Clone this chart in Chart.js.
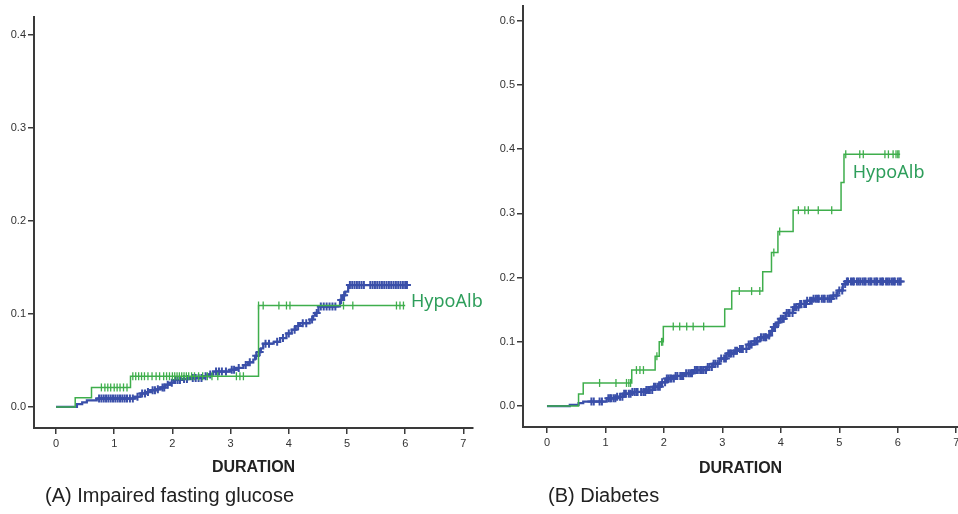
<!DOCTYPE html>
<html>
<head>
<meta charset="utf-8">
<script src="https://cdn.jsdelivr.net/npm/chart.js@4/dist/chart.umd.min.js"></script>
<style>
  html, body { margin: 0; padding: 0; background: #fff; overflow: hidden; width: 958px; height: 514px; }
  .panel { position: absolute; top: 0; }
  .caption { position: absolute; font-family: "Liberation Sans", Arial, sans-serif; font-size: 20px; color: #222; white-space: nowrap; }
</style>
</head>
<body>
<div class="panel" style="left:0px"><canvas id="chartA" width="492" height="514"></canvas></div>
<div class="panel" style="left:480px"><canvas id="chartB" width="490" height="514"></canvas></div>
<div class="caption" style="left:45px; top:484px">(A) Impaired fasting glucose</div>
<div class="caption" style="left:548px; top:484px">(B) Diabetes</div>
<script>
// tick labels
const xTicks = [0, 1, 2, 3, 4, 5, 6, 7];
const yTicksA = [0.0, 0.1, 0.2, 0.3, 0.4];
const yTicksB = [0.0, 0.1, 0.2, 0.3, 0.4, 0.5, 0.6];
const groupLabel = 'HypoAlb';

// (A) Impaired fasting glucose - HypoAlb group (green)
const hypoA_time = [0, 0.33, 0.61, 1.28, 3.48, 6.00];
const hypoA_cum  = [0, 0.010, 0.021, 0.033, 0.109, 0.109];
const hypoA_cens = [0.78, 0.84, 0.89, 0.94, 1.00, 1.05, 1.10, 1.16, 1.22,
  1.32, 1.37, 1.42, 1.47, 1.52, 1.58, 1.65, 1.72, 1.78, 1.85, 1.90, 1.95, 2.00, 2.04, 2.08,
  2.12, 2.16, 2.20, 2.24, 2.28, 2.33, 2.38, 2.45, 2.52, 2.60, 2.68, 2.78, 3.10, 3.16, 3.22,
  3.48, 3.56, 3.83, 3.96, 4.02, 4.94, 5.10, 5.85, 5.91, 5.97];

// (A) other group (blue)
const restA_time = [0, 0.36, 0.45, 0.53, 0.70, 1.35, 1.45, 1.55, 1.62, 1.72, 1.79, 1.88, 1.96, 2.03,
  2.15, 2.30, 2.53, 2.62, 2.70, 2.99, 3.10, 3.22, 3.30, 3.39, 3.42, 3.48, 3.52, 3.56, 3.74, 3.85,
  3.96, 4.05, 4.12, 4.19, 4.36, 4.42, 4.45, 4.51, 4.88, 4.93, 4.97, 5.02, 6.03];
const restA_cum  = [0, 0.003, 0.005, 0.007, 0.009, 0.011, 0.0145, 0.016, 0.018, 0.019, 0.021, 0.024, 0.026, 0.029,
  0.030, 0.031, 0.033, 0.035, 0.038, 0.040, 0.042, 0.045, 0.048, 0.051, 0.055, 0.059, 0.063, 0.068, 0.070, 0.074,
  0.079, 0.083, 0.087, 0.090, 0.094, 0.098, 0.101, 0.108, 0.115, 0.120, 0.124, 0.131, 0.131];
const restA_cens = [0.74, 0.78, 0.82, 0.86, 0.90, 0.94, 0.98, 1.02, 1.06, 1.10, 1.14, 1.18, 1.22, 1.27, 1.32,
  1.40, 1.48, 1.53, 1.58, 1.66, 1.70, 1.75, 1.83, 1.86, 1.92, 1.99, 2.05, 2.09, 2.13, 2.20, 2.25, 2.35, 2.40,
  2.45, 2.50, 2.57, 2.65, 2.75, 2.80, 2.85, 2.92, 3.02, 3.06, 3.14, 3.26, 3.33, 3.44, 3.50, 3.60, 3.66, 3.80,
  3.90, 4.00, 4.10, 4.16, 4.24, 4.30, 4.40, 4.48, 4.55, 4.60, 4.65, 4.70, 4.75, 4.80, 4.90, 4.95, 5.05, 5.09,
  5.13, 5.17, 5.21, 5.25, 5.29, 5.40, 5.44, 5.48, 5.52, 5.56, 5.60, 5.64, 5.68, 5.72, 5.76, 5.80, 5.84, 5.88,
  5.92, 5.96, 6.00, 6.03];

// (B) Diabetes - HypoAlb group (green)
const hypoB_time = [0, 0.54, 0.62, 1.45, 1.85, 1.92, 1.99, 3.04, 3.16, 3.69, 3.84, 3.95, 4.21, 5.03, 5.08, 6.04];
const hypoB_cum  = [0, 0.0186, 0.036, 0.056, 0.0775, 0.100, 0.124, 0.151, 0.179, 0.209, 0.239, 0.272, 0.305, 0.348, 0.392, 0.392];
const hypoB_cens = [0.90, 1.18, 1.36, 1.40, 1.43, 1.53, 1.59, 1.65, 1.88, 1.96, 1.98, 2.16, 2.27, 2.39, 2.50,
  2.68, 3.29, 3.50, 3.64, 3.88, 3.98, 4.30, 4.41, 4.47, 4.64, 4.87, 5.11, 5.35, 5.41, 5.78, 5.84, 5.92, 5.97, 6.00, 6.02];

// (B) other group (blue)
const restB_time = [0, 0.39, 0.54, 0.62, 1.02, 1.19, 1.30, 1.45, 1.70, 1.82, 1.95, 2.05, 2.20, 2.35, 2.50, 2.73,
  2.84, 2.95, 3.07, 3.20, 3.30, 3.45, 3.55, 3.64, 3.76, 3.82, 3.87, 3.93, 3.98, 4.08, 4.21, 4.32, 4.44, 4.55,
  4.89, 4.97, 5.06, 5.12, 6.05];
const restB_cum  = [0, 0.002, 0.0045, 0.007, 0.012, 0.0145, 0.019, 0.022, 0.025, 0.030, 0.037, 0.043, 0.047, 0.051,
  0.056, 0.061, 0.066, 0.074, 0.082, 0.086, 0.089, 0.096, 0.101, 0.107, 0.110, 0.117, 0.123, 0.130, 0.136,
  0.145, 0.154, 0.159, 0.164, 0.167, 0.172, 0.180, 0.190, 0.194, 0.194];
const restB_cens = [0.76, 0.80, 0.90, 0.94, 1.05, 1.08, 1.10, 1.14, 1.17, 1.20, 1.25, 1.29, 1.32, 1.35, 1.40, 1.43,
  1.46, 1.50, 1.53, 1.55, 1.61, 1.65, 1.68, 1.70, 1.73, 1.76, 1.80, 1.83, 1.86, 1.90, 1.93, 1.97, 2.02, 2.05,
  2.08, 2.11, 2.13, 2.17, 2.20, 2.23, 2.28, 2.31, 2.33, 2.38, 2.42, 2.45, 2.48, 2.53, 2.56, 2.58, 2.62, 2.65,
  2.68, 2.72, 2.75, 2.78, 2.82, 2.85, 2.88, 2.92, 2.98, 3.03, 3.06, 3.10, 3.13, 3.15, 3.19, 3.22, 3.25, 3.30,
  3.33, 3.35, 3.41, 3.45, 3.48, 3.50, 3.55, 3.58, 3.60, 3.66, 3.70, 3.73, 3.75, 3.80, 3.85, 3.88, 3.90, 3.96,
  4.00, 4.03, 4.05, 4.10, 4.13, 4.15, 4.20, 4.23, 4.26, 4.30, 4.33, 4.35, 4.40, 4.43, 4.45, 4.50, 4.53, 4.56,
  4.60, 4.63, 4.65, 4.70, 4.73, 4.75, 4.80, 4.83, 4.86, 4.90, 4.95, 5.00, 5.05, 5.10, 5.13, 5.15, 5.20, 5.23,
  5.25, 5.30, 5.33, 5.36, 5.40, 5.43, 5.45, 5.50, 5.53, 5.55, 5.60, 5.63, 5.65, 5.70, 5.73, 5.75, 5.80, 5.83,
  5.86, 5.90, 5.93, 5.95, 6.00, 6.03, 6.05];

const GREEN = '#3fae4c';
const BLUE = '#3a4fa9';
const AXIS = '#3a3a3a';

// value of a step curve at time t (last step at or before t)
function stepAt(times, cums, t) {
  let v = cums[0];
  for (let i = 0; i < times.length; i++) {
    if (times[i] <= t) v = cums[i];
  }
  return v;
}

function curve(times, cums) {
  return times.map((t, i) => ({ x: t, y: cums[i] }));
}

function marks(times, cums, cens) {
  return cens.map(t => ({ x: t, y: stepAt(times, cums, t) }));
}

// draws the group label next to the green curve
const groupLabelPlugin = {
  id: 'groupLabel',
  afterDatasetsDraw(chart, args, opts) {
    const ctx = chart.ctx;
    const x = chart.scales.x.getPixelForValue(opts.x);
    const y = chart.scales.y.getPixelForValue(opts.y);
    ctx.save();
    ctx.font = '18px "Noto Sans", sans-serif';
    ctx.fillStyle = '#2e9e5b';
    ctx.textAlign = 'left';
    ctx.textBaseline = 'middle';
    ctx.fillText(groupLabel, x, y);
    ctx.restore();
  }
};

function makeChart(canvasId, cfg) {
  const ctx = document.getElementById(canvasId).getContext('2d');
  return new Chart(ctx, {
    type: 'line',
    data: {
      datasets: [
        {
          label: 'HypoAlb censored',
          data: marks(cfg.hypoTime, cfg.hypoCum, cfg.hypoCens),
          showLine: false,
          pointStyle: 'line',
          rotation: 90,
          pointRadius: 4,
          borderWidth: 1.3,
          borderColor: GREEN,
          order: 1
        },
        {
          label: 'HypoAlb',
          data: curve(cfg.hypoTime, cfg.hypoCum),
          stepped: 'before',
          borderColor: GREEN,
          borderWidth: 1.5,
          pointRadius: 0,
          fill: false,
          order: 2
        },
        {
          label: 'Other censored',
          data: marks(cfg.restTime, cfg.restCum, cfg.restCens),
          showLine: false,
          pointStyle: 'cross',
          pointRadius: 4,
          borderWidth: 2,
          borderColor: BLUE,
          order: 3
        },
        {
          label: 'Other',
          data: curve(cfg.restTime, cfg.restCum),
          stepped: 'before',
          borderColor: BLUE,
          borderWidth: 2.2,
          pointRadius: 0,
          fill: false,
          order: 4
        }
      ]
    },
    options: {
      responsive: false,
      animation: false,
      devicePixelRatio: 1,
      layout: { padding: cfg.padding },
      plugins: {
        legend: { display: false },
        tooltip: { enabled: false },
        groupLabel: cfg.label
      },
      scales: {
        x: {
          type: 'linear',
          min: cfg.xMin,
          max: cfg.xMax,
          afterBuildTicks: s => { s.ticks = xTicks.map(v => ({ value: v })); },
          afterFit: s => { s.height = cfg.xHeight; s.paddingLeft = 0; s.paddingRight = 0; },
          ticks: {
            color: '#333',
            font: { family: '"Liberation Sans", Arial, sans-serif', size: 11 },
            padding: 3,
            maxRotation: 0,
            callback: v => String(v)
          },
          grid: { drawOnChartArea: false, drawTicks: true, tickLength: 6, color: AXIS, lineWidth: 1.5 },
          border: { display: true, color: AXIS, width: 2 },
          title: {
            display: true,
            text: 'DURATION',
            color: '#222',
            font: { family: '"Liberation Sans", Arial, sans-serif', size: 16, weight: 'bold' },
            padding: { top: 0, bottom: cfg.titlePad }
          }
        },
        y: {
          type: 'linear',
          min: cfg.yMin,
          max: cfg.yMax,
          afterBuildTicks: s => { s.ticks = cfg.yTicks.map(v => ({ value: v })); },
          afterFit: s => { s.width = cfg.yWidth; s.paddingTop = 0; s.paddingBottom = 0; },
          ticks: {
            color: '#333',
            font: { family: '"Liberation Sans", Arial, sans-serif', size: 11 },
            padding: 2,
            callback: v => v.toFixed(1)
          },
          grid: { drawOnChartArea: false, drawTicks: true, tickLength: 6, color: AXIS, lineWidth: 1.5 },
          border: { display: true, color: AXIS, width: 2 }
        }
      }
    },
    plugins: [groupLabelPlugin]
  });
}

window.onload = () => {
  makeChart('chartA', {
    hypoTime: hypoA_time, hypoCum: hypoA_cum, hypoCens: hypoA_cens,
    restTime: restA_time, restCum: restA_cum, restCens: restA_cens,
    xMin: -0.378, xMax: 7.165, yMin: -0.0226, yMax: 0.419,
    yTicks: yTicksA, yWidth: 34, xHeight: 86, titlePad: 37,
    padding: { top: 17, right: 19, left: 0, bottom: 0 },
    label: { x: 6.1, y: 0.113 }
  });
  makeChart('chartB', {
    hypoTime: hypoB_time, hypoCum: hypoB_cum, hypoCens: hypoB_cens,
    restTime: restB_time, restCum: restB_cum, restCens: restB_cens,
    xMin: -0.41, xMax: 7.03, yMin: -0.0326, yMax: 0.623,
    yTicks: yTicksB, yWidth: 43, xHeight: 87, titlePad: 36,
    padding: { top: 4, right: 12, left: 0, bottom: 0 },
    label: { x: 5.23, y: 0.363 }
  });
};
</script>
</body>
</html>
